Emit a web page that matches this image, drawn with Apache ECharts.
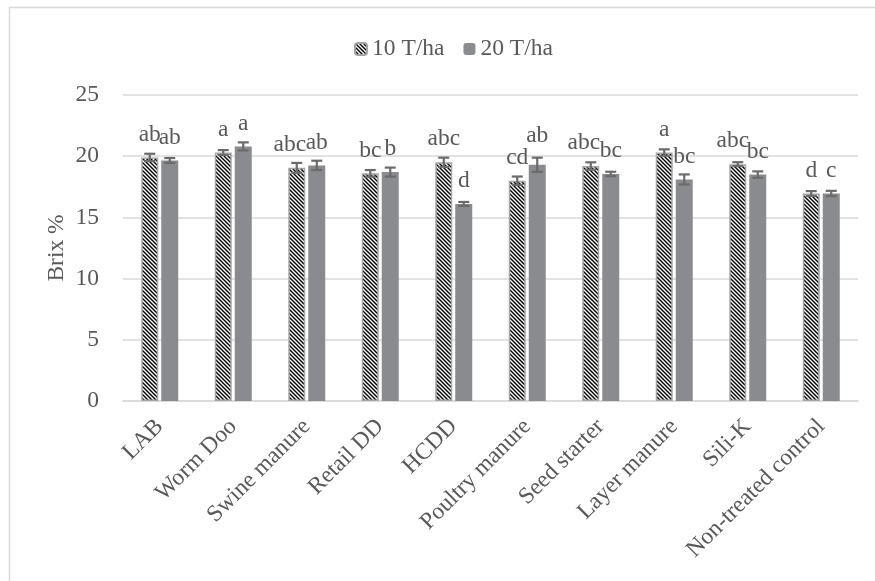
<!DOCTYPE html>
<html>
<head>
<meta charset="utf-8">
<script src="https://cdn.jsdelivr.net/npm/echarts@6/dist/echarts.min.js"></script>
<style>
  html, body { margin: 0; padding: 0; background: #fff; }
  #chart { width: 875px; height: 581px; }
</style>
</head>
<body>
<div id="chart"></div>
<script>
// Brix % per soil amendment at two application rates
const categories = ['LAB', 'Worm Doo', 'Swine manure', 'Retail DD', 'HCDD',
  'Poultry manure', 'Seed starter', 'Layer manure', 'Sili-K', 'Non-treated control'];
const seriesNames = ['10 T/ha', '20 T/ha'];
const brix10 = [19.9, 20.3, 19.05, 18.6, 19.5, 18.0, 19.2, 20.3, 19.35, 16.95];
const brix20 = [19.65, 20.8, 19.25, 18.7, 16.1, 19.3, 18.55, 18.1, 18.5, 16.95];
const err10 = [0.3, 0.2, 0.4, 0.27, 0.38, 0.34, 0.3, 0.26, 0.16, 0.2];
const err20 = [0.2, 0.33, 0.38, 0.37, 0.16, 0.58, 0.18, 0.41, 0.26, 0.22];
const letters10 = ['ab', 'a', 'abc', 'bc', 'abc', 'cd', 'abc', 'a', 'abc', 'd'];
const letters20 = ['ab', 'a', 'ab', 'b', 'd', 'ab', 'bc', 'bc', 'bc', 'c'];
const yTicks = [0, 5, 10, 15, 20, 25];

const FONT = '"Liberation Serif", "Times New Roman", serif';
const FS = 23.5;
const TEXT = '#595959';
const GRID = '#d9d9d9';

// Diagonal hatch fill for the 10 T/ha bars
function hatch() {
  const n = 4;
  const c = document.createElement('canvas');
  c.width = n; c.height = n;
  const g = c.getContext('2d');
  g.fillStyle = '#fff';
  g.fillRect(0, 0, n, n);
  g.strokeStyle = '#000';
  g.lineWidth = 1.4;
  g.beginPath();
  g.moveTo(-1, -1); g.lineTo(n + 1, n + 1);
  g.moveTo(-1, n - 1); g.lineTo(1, n + 1);
  g.moveTo(n - 1, -1); g.lineTo(n + 1, 1);
  g.stroke();
  return c;
}

// Nudges for letter labels that would otherwise collide with the neighbour
const labelShift10 = { 'Swine manure': [-7, 0], 'Seed starter': [-7, 0], 'Sili-K': [-5, 0] };
const labelShift20 = { 'Poultry manure': [0, -6] };

function barData(vals, letters, shifts) {
  return vals.map((v, i) => {
    const item = { value: v, letter: letters[i] };
    const s = shifts[categories[i]];
    if (s) item.label = { offset: s };
    return item;
  });
}

const BAR_W = 17;
const GAP = 3;

function errorSeries(vals, errs, idx) {
  return {
    type: 'custom',
    name: seriesNames[idx] + ' err',
    z: 5,
    silent: true,
    data: vals.map((v, i) => [i, v, errs[i]]),
    renderItem: function (params, api) {
      const i = api.value(0);
      const v = api.value(1);
      const e = api.value(2);
      const base = api.coord([i, v]);
      const dx = (BAR_W + GAP) / 2 * (idx === 0 ? -1 : 1);
      const x = base[0] + dx;
      const hi = api.coord([i, v + e])[1];
      const lo = api.coord([i, v - e])[1];
      const cap = 5.5;
      const st = { stroke: '#6b6b6b', lineWidth: 2.2 };
      return {
        type: 'group',
        children: [
          { type: 'line', shape: { x1: x, y1: hi, x2: x, y2: lo }, style: st },
          { type: 'line', shape: { x1: x - cap, y1: hi, x2: x + cap, y2: hi }, style: st },
          { type: 'line', shape: { x1: x - cap, y1: lo, x2: x + cap, y2: lo }, style: st }
        ]
      };
    }
  };
}

const letterLabel = {
  show: true,
  position: 'top',
  distance: 11,
  fontFamily: FONT,
  fontSize: FS,
  color: TEXT,
  formatter: p => p.data.letter
};

const chart = echarts.init(document.getElementById('chart'), null, { renderer: 'canvas' });
chart.setOption({
  animation: false,
  backgroundColor: '#fff',
  graphic: [{
    type: 'rect',
    shape: { x: 9.5, y: 7.5, width: 900, height: 600 },
    style: { fill: 'none', stroke: GRID, lineWidth: 1.5 },
    silent: true,
    z: -1
  }],
  legend: {
    data: seriesNames,
    left: 349,
    top: 32,
    itemWidth: 12,
    itemHeight: 12,
    itemGap: 19,
    textStyle: { fontFamily: FONT, fontSize: FS, color: TEXT }
  },
  grid: { left: 123, right: 17, top: 95, bottom: 180 },
  xAxis: {
    type: 'category',
    data: categories,
    axisLine: { lineStyle: { color: GRID, width: 1.5 } },
    axisTick: { show: false },
    axisLabel: { rotate: 45, margin: 22, fontFamily: FONT, fontSize: FS, color: TEXT, interval: 0 }
  },
  yAxis: {
    type: 'value',
    min: yTicks[0],
    max: yTicks[yTicks.length - 1],
    interval: 5,
    name: 'Brix %',
    nameLocation: 'middle',
    nameGap: 54,
    nameMoveOverlap: false,
    nameTextStyle: { fontFamily: FONT, fontSize: FS, color: TEXT },
    axisLine: { show: false },
    axisTick: { show: false },
    axisLabel: { margin: 24, fontFamily: FONT, fontSize: FS, color: TEXT },
    splitLine: { lineStyle: { color: GRID, width: 1.5 } }
  },
  series: [
    {
      type: 'bar',
      name: seriesNames[0],
      barWidth: BAR_W,
      barGap: (GAP / BAR_W * 100) + '%',
      data: barData(brix10, letters10, labelShift10),
      itemStyle: { color: { image: hatch(), repeat: 'repeat' }, borderColor: '#a6a6a6', borderWidth: 1.5 },
      label: letterLabel
    },
    {
      type: 'bar',
      name: seriesNames[1],
      barWidth: BAR_W,
      data: barData(brix20, letters20, labelShift20),
      itemStyle: { color: '#8a8b8f' },
      label: letterLabel
    },
    errorSeries(brix10, err10, 0),
    errorSeries(brix20, err20, 1)
  ]
});
</script>
</body>
</html>
